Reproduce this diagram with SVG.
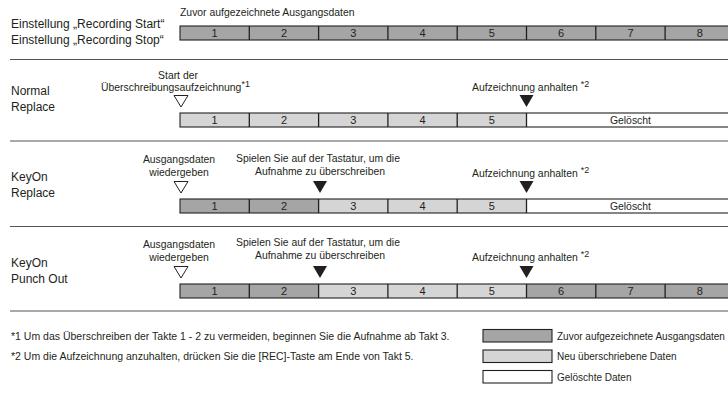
<svg xmlns="http://www.w3.org/2000/svg" width="728" height="407" viewBox="0 0 728 407">
<style>
text{font-family:"Liberation Sans",Arial,Helvetica,sans-serif;fill:#231f20}
.lbl{font-size:12px}
.s{font-size:10.4px}
.num{font-size:11px;text-anchor:middle}
.mid{text-anchor:middle}
.sup{font-size:9px}
.dk{fill:#a5a5a5}
.lt{fill:#d5d5d5}
.wh{fill:#ffffff}
.frame{fill:none;stroke:#231f20;stroke-width:1.1}
.div{stroke:#231f20;stroke-width:1.3}
.sep{stroke:#555;stroke-width:1.1}
.tri-o{fill:#fff;stroke:#231f20;stroke-width:1}
.tri-f{fill:#231f20}
.fn{font-size:10.5px}
.lg{font-size:10px}
</style>

<g id="separators">
<line class="sep" x1="10" y1="59.5" x2="728" y2="59.5"/>
<line class="sep" x1="10" y1="141" x2="728" y2="141"/>
<line class="sep" x1="10" y1="226.5" x2="728" y2="226.5"/>
<line class="sep" x1="10" y1="311" x2="728" y2="311"/>
</g>

<g id="row-original">
<text class="lbl" x="11" y="28">Einstellung „Recording Start“</text>
<text class="lbl" x="11" y="44">Einstellung „Recording Stop“</text>
<text class="s" x="180" y="16">Zuvor aufgezeichnete Ausgangsdaten</text>
<rect class="dk" x="180" y="26" width="554.4" height="14"/>
<rect class="frame" x="180" y="26" width="554.4" height="14"/>
<g class="div">
<line x1="249.3" y1="26" x2="249.3" y2="40"/><line x1="318.6" y1="26" x2="318.6" y2="40"/><line x1="387.9" y1="26" x2="387.9" y2="40"/><line x1="457.2" y1="26" x2="457.2" y2="40"/><line x1="526.5" y1="26" x2="526.5" y2="40"/><line x1="595.8" y1="26" x2="595.8" y2="40"/><line x1="665.1" y1="26" x2="665.1" y2="40"/>
</g>
<text class="num" x="214.65" y="37">1</text><text class="num" x="283.95" y="37">2</text><text class="num" x="353.25" y="37">3</text><text class="num" x="422.55" y="37">4</text><text class="num" x="491.85" y="37">5</text><text class="num" x="561.15" y="37">6</text><text class="num" x="630.45" y="37">7</text><text class="num" x="699.75" y="37">8</text>
</g>

<g id="row-normal-replace">
<text class="lbl" x="11" y="95">Normal</text>
<text class="lbl" x="11" y="111">Replace</text>
<text class="s mid" x="178" y="79">Start der</text>
<text class="s" x="101" y="91">Überschreibungsaufzeichnung<tspan class="sup" dy="-4.5">*1</tspan></text>
<text class="s" x="472" y="91">Aufzeichnung anhalten <tspan class="sup" dy="-4.5">*2</tspan></text>
<polygon class="tri-o" points="174,95.5 188,95.5 181,107"/>
<polygon class="tri-f" points="519.5,95 533.5,95 526.5,107"/>
<rect class="lt" x="180" y="113" width="346.5" height="14"/>
<rect class="wh" x="526.5" y="113" width="207.9" height="14"/>
<rect class="frame" x="180" y="113" width="554.4" height="14"/>
<g class="div">
<line x1="249.3" y1="113" x2="249.3" y2="127"/><line x1="318.6" y1="113" x2="318.6" y2="127"/><line x1="387.9" y1="113" x2="387.9" y2="127"/><line x1="457.2" y1="113" x2="457.2" y2="127"/><line x1="526.5" y1="113" x2="526.5" y2="127"/>
</g>
<text class="num" x="214.65" y="124">1</text><text class="num" x="283.95" y="124">2</text><text class="num" x="353.25" y="124">3</text><text class="num" x="422.55" y="124">4</text><text class="num" x="491.85" y="124">5</text>
<text class="num" x="630.45" y="124" style="font-size:10.4px">Gelöscht</text>
</g>

<g id="row-keyon-replace">
<text class="lbl" x="11" y="181">KeyOn</text>
<text class="lbl" x="11" y="197">Replace</text>
<text class="s mid" x="179" y="163">Ausgangsdaten</text>
<text class="s mid" x="179" y="176">wiedergeben</text>
<text class="s mid" x="318" y="162">Spielen Sie auf der Tastatur, um die</text>
<text class="s mid" x="320" y="175">Aufnahme zu überschreiben</text>
<text class="s" x="472" y="177">Aufzeichnung anhalten <tspan class="sup" dy="-4.5">*2</tspan></text>
<polygon class="tri-o" points="174,181.5 188,181.5 181,193"/>
<polygon class="tri-f" points="313,181 327,181 320,193"/>
<polygon class="tri-f" points="519.5,181 533.5,181 526.5,193"/>
<rect class="dk" x="180" y="199" width="138.6" height="14"/>
<rect class="lt" x="318.6" y="199" width="207.9" height="14"/>
<rect class="wh" x="526.5" y="199" width="207.9" height="14"/>
<rect class="frame" x="180" y="199" width="554.4" height="14"/>
<g class="div">
<line x1="249.3" y1="199" x2="249.3" y2="213"/><line x1="318.6" y1="199" x2="318.6" y2="213"/><line x1="387.9" y1="199" x2="387.9" y2="213"/><line x1="457.2" y1="199" x2="457.2" y2="213"/><line x1="526.5" y1="199" x2="526.5" y2="213"/>
</g>
<text class="num" x="214.65" y="210">1</text><text class="num" x="283.95" y="210">2</text><text class="num" x="353.25" y="210">3</text><text class="num" x="422.55" y="210">4</text><text class="num" x="491.85" y="210">5</text>
<text class="num" x="630.45" y="210" style="font-size:10.4px">Gelöscht</text>
</g>

<g id="row-keyon-punch-out">
<text class="lbl" x="11" y="267">KeyOn</text>
<text class="lbl" x="11" y="283">Punch Out</text>
<text class="s mid" x="179" y="248">Ausgangsdaten</text>
<text class="s mid" x="179" y="261">wiedergeben</text>
<text class="s mid" x="318" y="246">Spielen Sie auf der Tastatur, um die</text>
<text class="s mid" x="320" y="259">Aufnahme zu überschreiben</text>
<text class="s" x="472" y="261">Aufzeichnung anhalten <tspan class="sup" dy="-4.5">*2</tspan></text>
<polygon class="tri-o" points="174,266.5 188,266.5 181,278"/>
<polygon class="tri-f" points="313,266 327,266 320,278"/>
<polygon class="tri-f" points="519.5,266 533.5,266 526.5,278"/>
<rect class="dk" x="180" y="284" width="138.6" height="14"/>
<rect class="lt" x="318.6" y="284" width="207.9" height="14"/>
<rect class="dk" x="526.5" y="284" width="207.9" height="14"/>
<rect class="frame" x="180" y="284" width="554.4" height="14"/>
<g class="div">
<line x1="249.3" y1="284" x2="249.3" y2="298"/><line x1="318.6" y1="284" x2="318.6" y2="298"/><line x1="387.9" y1="284" x2="387.9" y2="298"/><line x1="457.2" y1="284" x2="457.2" y2="298"/><line x1="526.5" y1="284" x2="526.5" y2="298"/><line x1="595.8" y1="284" x2="595.8" y2="298"/><line x1="665.1" y1="284" x2="665.1" y2="298"/>
</g>
<text class="num" x="214.65" y="295">1</text><text class="num" x="283.95" y="295">2</text><text class="num" x="353.25" y="295">3</text><text class="num" x="422.55" y="295">4</text><text class="num" x="491.85" y="295">5</text><text class="num" x="561.15" y="295">6</text><text class="num" x="630.45" y="295">7</text><text class="num" x="699.75" y="295">8</text>
</g>

<g id="footnotes">
<text class="fn" x="11" y="339.5">*1 Um das Überschreiben der Takte 1 - 2 zu vermeiden, beginnen Sie die Aufnahme ab Takt 3.</text>
<text class="fn" x="11" y="359.5">*2 Um die Aufzeichnung anzuhalten, drücken Sie die [REC]-Taste am Ende von Takt 5.</text>
</g>

<g id="legend">
<rect class="dk" x="483" y="329.5" width="69" height="12.5" stroke="#231f20" stroke-width="1.1"/>
<text class="lg" x="557" y="339.5">Zuvor aufgezeichnete Ausgangsdaten</text>
<rect class="lt" x="483" y="350" width="69" height="12.5" stroke="#231f20" stroke-width="1.1"/>
<text class="lg" x="557" y="360">Neu überschriebene Daten</text>
<rect class="wh" x="483" y="370.5" width="69" height="12.5" stroke="#231f20" stroke-width="1.1"/>
<text class="lg" x="557" y="380.5">Gelöschte Daten</text>
</g>
</svg>
